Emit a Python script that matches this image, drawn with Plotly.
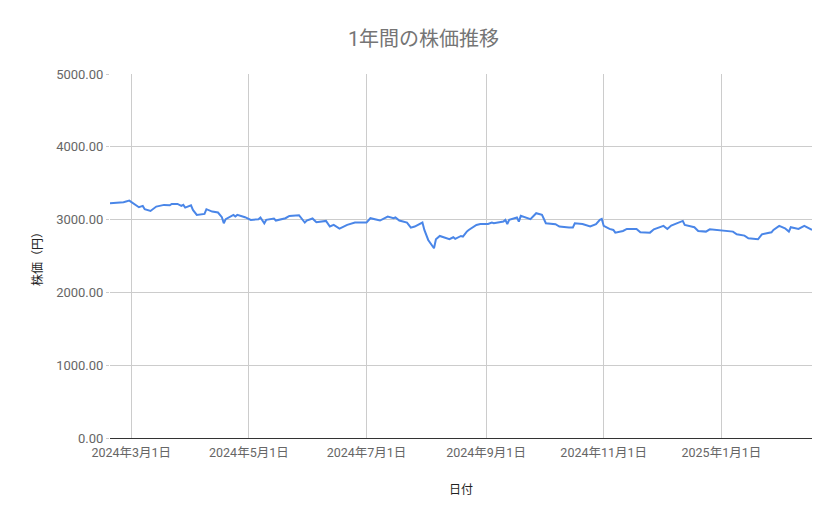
import plotly.graph_objects as go

# 日付と終値
dates = [
    "2024-02-19", "2024-02-26", "2024-02-29", "2024-03-04", "2024-03-05", "2024-03-07",
    "2024-03-08", "2024-03-11", "2024-03-14", "2024-03-18", "2024-03-21", "2024-03-22",
    "2024-03-25", "2024-03-27", "2024-03-28", "2024-03-29", "2024-04-01", "2024-04-02",
    "2024-04-04", "2024-04-08", "2024-04-09", "2024-04-12", "2024-04-15", "2024-04-17",
    "2024-04-18", "2024-04-19", "2024-04-23", "2024-04-24", "2024-04-25", "2024-04-29",
    "2024-05-02", "2024-05-06", "2024-05-07", "2024-05-09", "2024-05-10", "2024-05-14",
    "2024-05-15", "2024-05-20", "2024-05-22", "2024-05-27", "2024-05-30", "2024-05-31",
    "2024-06-03", "2024-06-05", "2024-06-10", "2024-06-12", "2024-06-14", "2024-06-17",
    "2024-06-21", "2024-06-25", "2024-07-01", "2024-07-03", "2024-07-08", "2024-07-12",
    "2024-07-15", "2024-07-16", "2024-07-18", "2024-07-22", "2024-07-24", "2024-07-26",
    "2024-07-30", "2024-07-31", "2024-08-02", "2024-08-05", "2024-08-06", "2024-08-08",
    "2024-08-12", "2024-08-13", "2024-08-15", "2024-08-16", "2024-08-19", "2024-08-20",
    "2024-08-22", "2024-08-23", "2024-08-27", "2024-08-29", "2024-09-02", "2024-09-04",
    "2024-09-05", "2024-09-09", "2024-09-10", "2024-09-11", "2024-09-12", "2024-09-13",
    "2024-09-17", "2024-09-18", "2024-09-19", "2024-09-24", "2024-09-27", "2024-09-30",
    "2024-10-02", "2024-10-07", "2024-10-09", "2024-10-14", "2024-10-16", "2024-10-17",
    "2024-10-21", "2024-10-25", "2024-10-28", "2024-10-30", "2024-10-31", "2024-11-01",
    "2024-11-04", "2024-11-06", "2024-11-07", "2024-11-11", "2024-11-13", "2024-11-18",
    "2024-11-20", "2024-11-25", "2024-11-27", "2024-12-02", "2024-12-04", "2024-12-06",
    "2024-12-09", "2024-12-12", "2024-12-13", "2024-12-18", "2024-12-20", "2024-12-24",
    "2024-12-26", "2024-12-30", "2025-01-03", "2025-01-07", "2025-01-09", "2025-01-13",
    "2025-01-15", "2025-01-20", "2025-01-22", "2025-01-27", "2025-01-28", "2025-01-31",
    "2025-02-03", "2025-02-05", "2025-02-06", "2025-02-10", "2025-02-13", "2025-02-17",
]
prices = [
    3225, 3239, 3261, 3188, 3170, 3188,
    3143, 3119, 3179, 3202, 3197, 3215,
    3215, 3188, 3202, 3165, 3197, 3133,
    3065, 3078, 3143, 3110, 3097, 3033,
    2950, 3006, 3065, 3042, 3065, 3033,
    2996, 3006, 3029, 2950, 2996, 3015,
    2987, 3019, 3051, 3060, 2959, 2987,
    3015, 2964, 2982, 2905, 2927, 2877,
    2927, 2959, 2959, 3019, 2987, 3042,
    3019, 3029, 2987, 2959, 2890, 2905,
    2959, 2858, 2720, 2606, 2730, 2775,
    2744, 2730, 2757, 2735, 2775, 2766,
    2835, 2858, 2927, 2940, 2940, 2959,
    2950, 2964, 2973, 2996, 2940, 2996,
    3029, 2973, 3051, 3006, 3088, 3065,
    2950, 2936, 2905, 2890, 2890, 2950,
    2940, 2905, 2936, 2996, 3010, 2913,
    2872, 2858, 2821, 2844, 2872, 2872,
    2826, 2821, 2867, 2913, 2872, 2918,
    2950, 2982, 2927, 2895, 2844, 2835,
    2867, 2858, 2849, 2835, 2798, 2780,
    2744, 2730, 2798, 2826, 2858, 2913,
    2881, 2835, 2895, 2872, 2913, 2858,
]

y_ticks = [0, 1000, 2000, 3000, 4000, 5000]

fig = go.Figure()

fig.add_trace(go.Scatter(
    x=dates,
    y=prices,
    mode="lines",
    line=dict(color="#4a86e8", width=2),
))

# ページ余白(8px)の分だけ小さくする
fig.update_layout(
    title=dict(
        text="1年間の株価推移",
        x=0.5,
        xanchor="center",
        y=0.94,
        yanchor="middle",
        font=dict(size=20, color="#757575"),
    ),
    font=dict(family="Roboto, Noto Sans CJK JP", color="#444444"),
    width=831,
    height=511,
    margin=dict(l=102, r=27, t=66, b=81),
    paper_bgcolor="white",
    plot_bgcolor="white",
    showlegend=False,
    xaxis=dict(
        title=dict(text="日付", font=dict(size=12, color="#222222"), standoff=26),
        range=[dates[0], dates[-1]],
        tick0="2024-03-01",
        dtick="M2",
        tickformat="%Y年%-m月%-d日",
        tickfont=dict(size=12.5, color="#666666"),
        ticklabelstandoff=3,
        showgrid=True,
        gridcolor="#cccccc",
        gridwidth=1,
        showline=True,
        linecolor="#333333",
        linewidth=1,
        ticks="",
        zeroline=False,
    ),
    yaxis=dict(
        title=dict(text="株価（円）", font=dict(size=12, color="#222222"), standoff=10),
        range=[0, 5000],
        tickvals=y_ticks,
        tickformat=".2f",
        tickfont=dict(size=13, color="#666666"),
        showgrid=True,
        gridcolor="#cccccc",
        gridwidth=1,
        zeroline=False,
        ticks="outside",
        ticklen=3,
        tickcolor="#cccccc",
    ),
)

fig.write_html("out.html")
